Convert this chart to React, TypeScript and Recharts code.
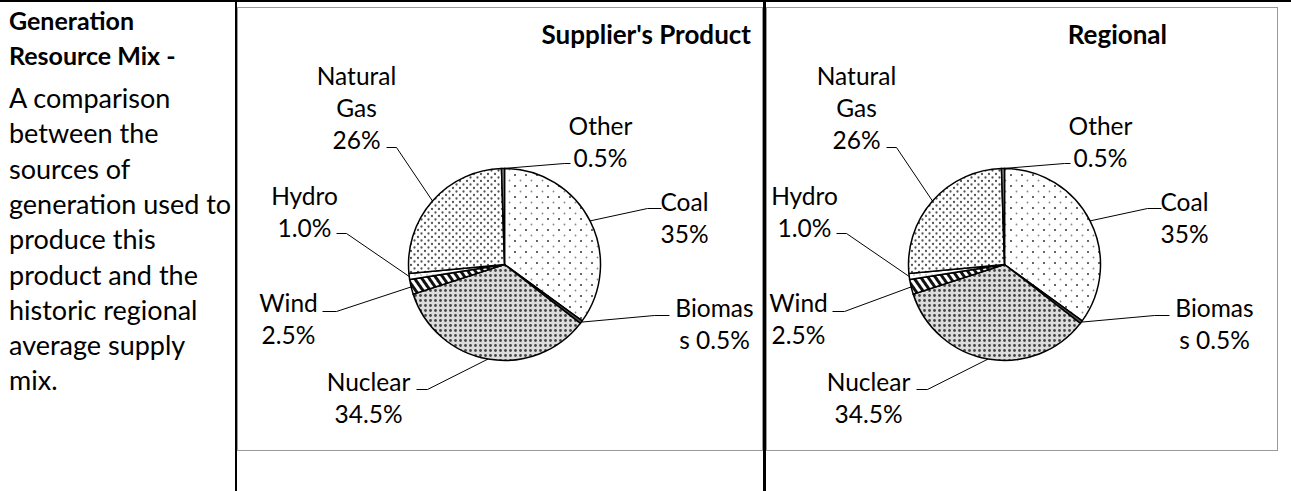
import React from 'react';
import { PieChart, Pie, Cell } from 'recharts';

const SOURCES = ['Coal', 'Biomass', 'Nuclear', 'Wind', 'Hydro', 'Natural Gas', 'Other'];
const SUPPLIER_VALUES = [35, 0.5, 34.5, 2.5, 1.0, 26, 0.5];
const REGIONAL_VALUES = [35, 0.5, 34.5, 2.5, 1.0, 26, 0.5];
const SUPPLIER_LABELS = ['35%', '0.5%', '34.5%', '2.5%', '1.0%', '26%', '0.5%'];
const REGIONAL_LABELS = ['35%', '0.5%', '34.5%', '2.5%', '1.0%', '26%', '0.5%'];

const SIDE_TITLE = ['Generation', 'Resource Mix -'];
const SIDE_TEXT = [
  'A comparison',
  'between the',
  'sources of',
  'generation used to',
  'produce this',
  'product and the',
  'historic regional',
  'average supply',
  'mix.',
];

const FILLS: Record<string, string> = {
  Coal: 'url(#pCoal)',
  Biomass: '#555',
  Nuclear: 'url(#pNuclear)',
  Wind: 'url(#pWind)',
  Hydro: 'url(#pHydro)',
  'Natural Gas': 'url(#pGas)',
  Other: '#888',
};

type Lay = { tx: number; ty: number; ex: number; ey: number; hx: number };

// label placement, relative to the pie centre (text centre, elbow, end of short leg)
const LABEL_LAYOUT: Record<string, Lay> = {
  Coal: { tx: 180, ty: -63, ex: 143, ey: -56, hx: 157 },
  Biomass: { tx: 210, ty: 43, ex: 150, ey: 51, hx: 165 },
  Nuclear: { tx: -136, ty: 117, ex: -77, ey: 125, hx: -88 },
  Wind: { tx: -216, ty: 38, ex: -168, ey: 47, hx: -182 },
  Hydro: { tx: -200, ty: -69, ex: -158, ey: -31, hx: -168 },
  'Natural Gas': { tx: -148, ty: -189, ex: -108, ey: -117, hx: -118 },
  Other: { tx: 96, ty: -139, ex: 60, ey: -101, hx: 66 },
};

// the regional chart is narrower, so its Wind label is pushed inside the box
const REGIONAL_LAYOUT: Record<string, Lay> = {
  ...LABEL_LAYOUT,
  Wind: { tx: -206, ty: 38, ex: -160, ey: 47, hx: -172 },
};

const FONT = 'Lato, "Open Sans", sans-serif';
const FS = 24.5;
const LINE_H = 32;
const RADIUS = 96;
const RAD = Math.PI / 180;
const BORDER = 1.5;

function labelLines(name: string, pct: string) {
  if (name === 'Natural Gas') return ['Natural', 'Gas', pct];
  if (name === 'Biomass') return ['Biomas', 's ' + pct];
  return [name, pct];
}

const makeLabel = (layout: Record<string, Lay>) => (props: any) => {
  const { cx, cy, midAngle, outerRadius, payload } = props;
  const name = payload.name;
  const lay = layout[name];
  const sx = cx + outerRadius * Math.cos(-midAngle * RAD);
  const sy = cy + outerRadius * Math.sin(-midAngle * RAD);
  const lines = labelLines(name, payload.pct);
  return (
    <g>
      <polyline
        points={`${sx},${sy} ${cx + lay.ex},${cy + lay.ey} ${cx + lay.hx},${cy + lay.ey}`}
        fill="none"
        stroke="#000"
        strokeWidth={1}
      />
      {lines.map((t, i) => (
        <text
          key={i}
          x={cx + lay.tx}
          y={cy + lay.ty + i * LINE_H}
          textAnchor="middle"
          dominantBaseline="central"
          fontFamily={FONT}
          fontSize={FS}
          fill="#000"
        >
          {t}
        </text>
      ))}
    </g>
  );
};

function MixPie({ values, labels, cx, layout }: { values: number[]; labels: string[]; cx: number; layout: Record<string, Lay> }) {
  const data = SOURCES.map((name, i) => ({ name, value: values[i], pct: labels[i] }));
  return (
    <PieChart width={526} height={444} margin={{ top: 0, right: 0, bottom: 0, left: 0 }}>
      <Pie
        data={data}
        dataKey="value"
        nameKey="name"
        cx={cx - BORDER}
        cy={258 - BORDER}
        outerRadius={RADIUS}
        startAngle={90}
        endAngle={-270}
        stroke="#000"
        strokeWidth={1.5}
        label={makeLabel(layout)}
        labelLine={false}
        isAnimationActive={false}
      >
        {data.map((d) => (
          <Cell key={d.name} fill={FILLS[d.name]} />
        ))}
      </Pie>
    </PieChart>
  );
}

const abs = (s: React.CSSProperties): React.CSSProperties => ({ position: 'absolute', ...s });

export default function App() {
  return (
    <div style={abs({ left: 0, top: 0, width: 1291, height: 491, background: '#fff', fontFamily: FONT, overflow: 'hidden' })}>
      <svg width={0} height={0} style={{ position: 'absolute' }}>
        <defs>
          <pattern id="pCoal" width={11} height={11} patternUnits="userSpaceOnUse">
            <rect width={11} height={11} fill="#fff" />
            <circle cx={2} cy={2} r={1} fill="#333" />
            <circle cx={7.5} cy={7.5} r={0.9} fill="#888" />
          </pattern>
          <pattern id="pGas" width={7} height={7} patternUnits="userSpaceOnUse">
            <rect width={7} height={7} fill="#fff" />
            <circle cx={1.5} cy={1.5} r={1.15} fill="#555" />
            <circle cx={5} cy={5} r={1.15} fill="#555" />
          </pattern>
          <pattern id="pNuclear" width={5} height={5} patternUnits="userSpaceOnUse">
            <rect width={5} height={5} fill="#dcdcdc" />
            <circle cx={2.5} cy={2.5} r={1.4} fill="#444" />
          </pattern>
          <pattern id="pWind" width={6} height={6} patternUnits="userSpaceOnUse" patternTransform="rotate(-35)">
            <rect width={6} height={6} fill="#fff" />
            <rect width={3} height={6} fill="#111" />
          </pattern>
          <pattern id="pHydro" width={6} height={6} patternUnits="userSpaceOnUse">
            <rect width={6} height={6} fill="#fff" />
            <circle cx={3} cy={3} r={0.8} fill="#aaa" />
          </pattern>
        </defs>
      </svg>

      {/* table rules */}
      <div style={abs({ left: 0, top: 0, width: 1291, height: 2, background: '#000' })} />
      <div style={abs({ left: 235, top: 0, width: 2, height: 491, background: '#000' })} />
      <div style={abs({ left: 763, top: 0, width: 3, height: 491, background: '#000' })} />

      {/* side text */}
      <div style={abs({ left: 9, top: 2.5, width: 226, fontSize: 27, lineHeight: '35.3px', color: '#000' })}>
        {SIDE_TITLE.map((t) => (
          <div key={t} style={{ fontWeight: 700, fontSize: 25, whiteSpace: 'nowrap' }}>{t}</div>
        ))}
        <div style={{ height: 7 }} />
        {SIDE_TEXT.map((t) => (
          <div key={t} style={{ whiteSpace: 'nowrap' }}>{t}</div>
        ))}
      </div>

      {/* chart boxes */}
      <div style={abs({ left: 237, top: 7, width: 526, height: 444, boxSizing: 'border-box', border: `${BORDER}px solid #9a9a9a` })}>
        <div style={abs({ right: 11, top: 10, fontSize: 26, fontWeight: 700, whiteSpace: 'nowrap' })}>Supplier's Product</div>
        <div style={abs({ left: 0, top: 0 })}>
          <MixPie values={SUPPLIER_VALUES} labels={SUPPLIER_LABELS} cx={268} layout={LABEL_LAYOUT} />
        </div>
      </div>
      <div style={abs({ left: 766, top: 7, width: 512, height: 444, boxSizing: 'border-box', border: `${BORDER}px solid #9a9a9a` })}>
        <div style={abs({ right: 110, top: 10, fontSize: 26, fontWeight: 700, whiteSpace: 'nowrap' })}>Regional</div>
        <div style={abs({ left: 0, top: 0, width: 509, overflow: 'hidden' })}>
          <MixPie values={REGIONAL_VALUES} labels={REGIONAL_LABELS} cx={239} layout={REGIONAL_LAYOUT} />
        </div>
      </div>
    </div>
  );
}
